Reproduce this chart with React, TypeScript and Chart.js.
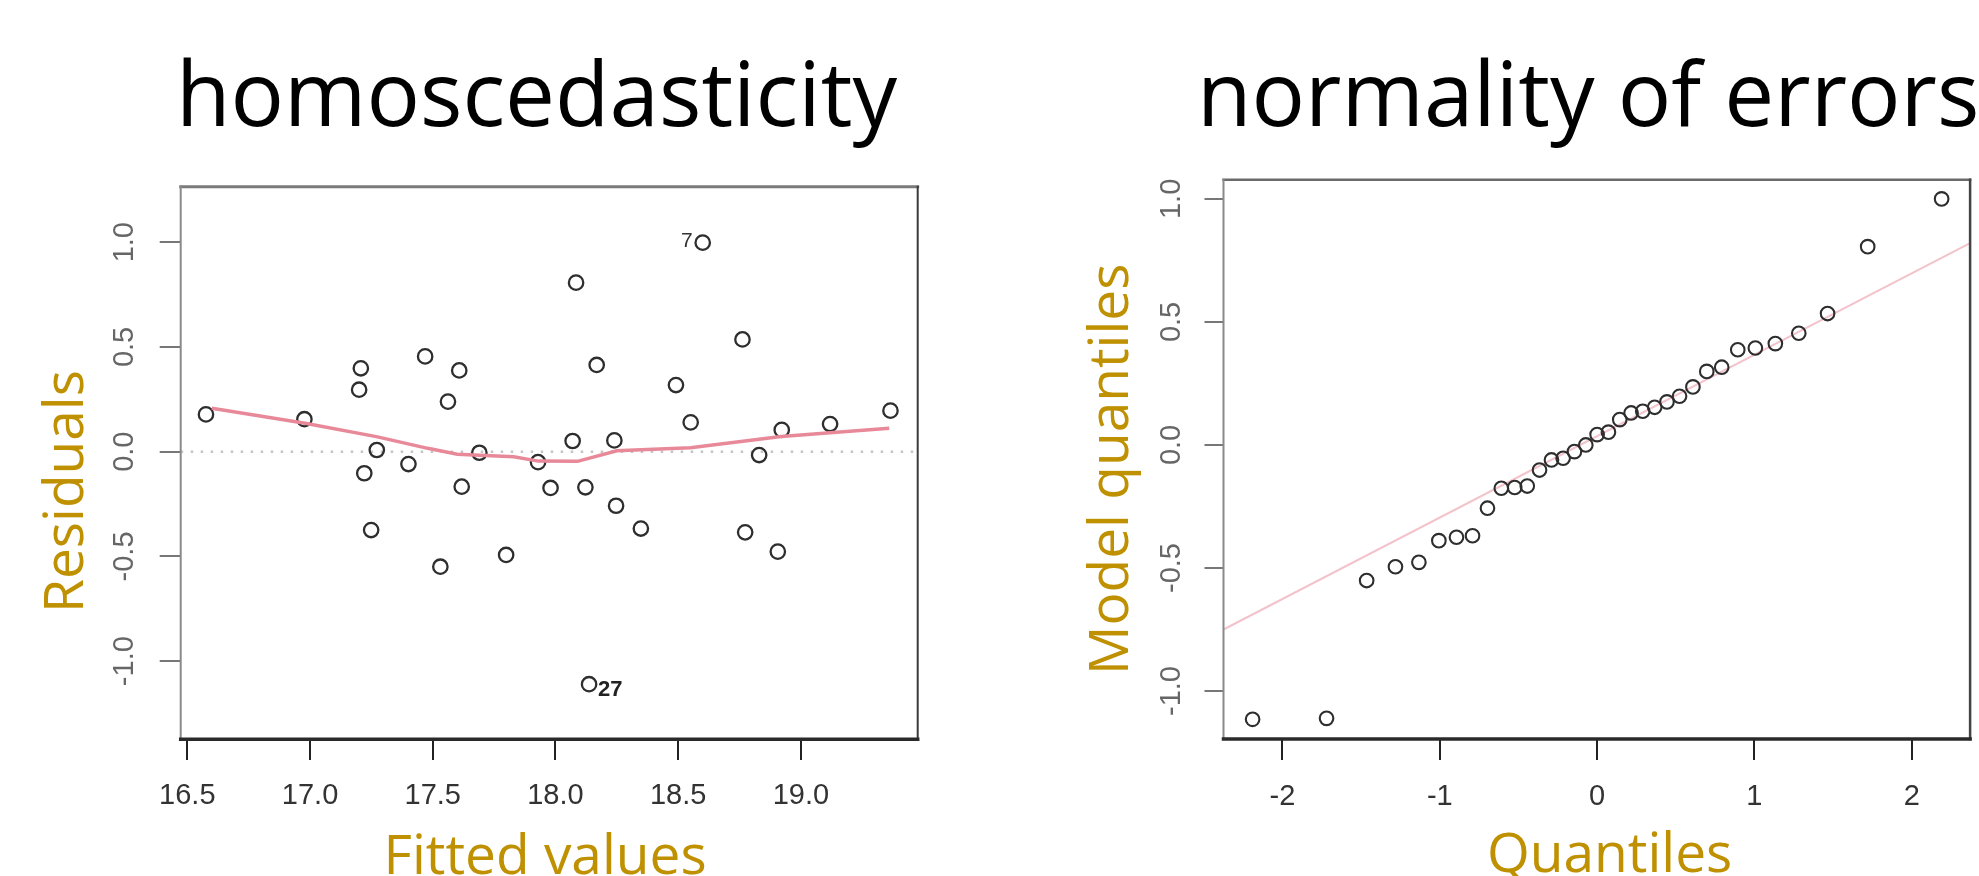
import React, { useEffect, useRef } from 'react';
import { Chart, registerables } from 'chart.js';

Chart.register(...registerables);
Chart.defaults.font.family = "'Liberation Sans', Arial, sans-serif";

// ---------- Left panel: residuals vs fitted ----------
const fittedValues = [
  16.576, 16.977, 17.207, 17.2, 17.221, 17.249, 17.272, 17.401, 17.469, 17.531,
  17.562, 17.608, 17.618, 17.69, 17.799, 17.929, 17.98, 18.07, 18.084, 18.122,
  18.137, 18.168, 18.24, 18.247, 18.348, 18.491, 18.551, 18.6, 18.762, 18.773,
  18.83, 18.906, 18.922, 19.119, 19.365,
];
const residuals = [
  0.178, 0.155, 0.398, 0.296, -0.103, -0.374, 0.008, -0.059, 0.455, -0.549,
  0.239, 0.388, -0.167, -0.005, -0.493, -0.05, -0.173, 0.051, 0.807, -0.17,
  -1.11, 0.414, 0.054, -0.258, -0.367, 0.318, 0.14, 0.998, 0.536, -0.385,
  -0.016, -0.477, 0.104, 0.132, 0.196,
];
const labelledPointIndex = [27, 20];
const labelledPointText = ['7', '27'];

const smoothX = [16.6, 16.98, 17.27, 17.48, 17.6, 17.83, 17.93, 18.09, 18.25, 18.55, 18.92, 19.36];
const smoothY = [0.207, 0.136, 0.072, 0.016, -0.012, -0.024, -0.045, -0.046, 0.004, 0.019, 0.072, 0.112];

const fittedRange = [16.473, 19.476];
const residualRange = [-1.373, 1.265];
const fittedTicks = [16.5, 17.0, 17.5, 18.0, 18.5, 19.0];
const residualTicks = [-1.0, -0.5, 0.0, 0.5, 1.0];

// ---------- Right panel: normal Q-Q ----------
const theoreticalQuantiles = [
  -2.19, -1.72, -1.465, -1.282, -1.133, -1.006, -0.894, -0.792, -0.697, -0.609,
  -0.524, -0.444, -0.366, -0.29, -0.216, -0.144, -0.072, 0.0, 0.072, 0.144,
  0.216, 0.29, 0.366, 0.444, 0.524, 0.609, 0.697, 0.792, 0.894, 1.006,
  1.133, 1.282, 1.465, 1.72, 2.19,
];
const modelQuantiles = [
  -1.115, -1.111, -0.551, -0.495, -0.477, -0.389, -0.375, -0.369, -0.257, -0.176,
  -0.173, -0.167, -0.102, -0.061, -0.054, -0.027, 0.0, 0.042, 0.052, 0.103,
  0.13, 0.137, 0.153, 0.175, 0.198, 0.236, 0.299, 0.316, 0.387, 0.394,
  0.412, 0.454, 0.534, 0.806, 1.0,
];
const qqLineX = [-2.375, 2.371];
const qqLineY = [-0.75, 0.82];

const quantileRange = [-2.375, 2.371];
const modelRange = [-1.195, 1.078];
const quantileTicks = [-2, -1, 0, 1, 2];
const modelTicks = [-1.0, -0.5, 0.0, 0.5, 1.0];

// ---------- plugins ----------
const framePlugin = {
  id: 'frame',
  afterDatasetsDraw(chart: any, _args: any, opts: any) {
    const { ctx, chartArea: a } = chart;
    const sides = [
      ['top', a.left, a.top, a.right, a.top],
      ['left', a.left, a.top, a.left, a.bottom],
      ['right', a.right, a.top, a.right, a.bottom],
      ['bottom', a.left, a.bottom, a.right, a.bottom],
    ];
    ctx.save();
    ctx.lineCap = 'square';
    for (const [k, x1, y1, x2, y2] of sides as any) {
      const s = opts[k];
      if (!s) continue;
      ctx.strokeStyle = s.color;
      ctx.lineWidth = s.width;
      ctx.beginPath();
      ctx.moveTo(x1, y1);
      ctx.lineTo(x2, y2);
      ctx.stroke();
    }
    ctx.restore();
  },
};

const pointTextPlugin = {
  id: 'pointText',
  afterDatasetsDraw(chart: any, _args: any, opts: any) {
    if (!opts || !opts.items) return;
    const meta = chart.getDatasetMeta(opts.datasetIndex);
    const { ctx } = chart;
    ctx.save();
    for (const it of opts.items) {
      const el = meta.data[it.index];
      if (!el) continue;
      ctx.font = it.font;
      ctx.fillStyle = it.color;
      ctx.textAlign = it.align;
      ctx.textBaseline = 'middle';
      ctx.fillText(it.text, el.x + it.dx, el.y + it.dy);
    }
    ctx.restore();
  },
};

function makeAxis(o: any) {
  return {
    type: 'linear',
    min: o.range[0],
    max: o.range[1],
    afterBuildTicks: (s: any) => {
      s.ticks = o.ticks.map((v: number) => ({ value: v }));
    },
    afterFit: (s: any) => {
      if (o.horizontal) s.height = o.size;
      else s.width = o.size;
    },
    border: { display: false },
    grid: {
      drawOnChartArea: false,
      drawTicks: true,
      tickLength: o.tickLength,
      color: o.tickColor,
      tickColor: o.tickColor,
      lineWidth: o.tickWidth,
      tickWidth: o.tickWidth,
    },
    ticks: {
      autoSkip: false,
      padding: o.padding,
      color: o.labelColor,
      font: { family: "'Liberation Sans', Arial, sans-serif", size: o.fontSize, lineHeight: 1.2 },
      minRotation: o.horizontal ? 0 : 90,
      maxRotation: o.horizontal ? 0 : 90,
      crossAlign: o.horizontal ? 'near' : 'center',
      callback: (v: number) => o.format(v),
    },
  };
}

const fmt1 = (v: number) => v.toFixed(1);
const fmt0 = (v: number) => String(Math.round(v));

function useChart(ref: React.RefObject<HTMLCanvasElement>, build: () => any) {
  useEffect(() => {
    if (!ref.current) return;
    const chart = new Chart(ref.current, build());
    return () => chart.destroy();
  }, []);
}

function BaselineText(props: {
  x: number; y: number; size: number; color: string; rotate?: boolean; children: string;
}) {
  const H = 200;
  return (
    <div
      style={{
        position: 'absolute',
        left: props.x,
        top: props.y - H,
        lineHeight: 0,
        whiteSpace: 'nowrap',
        fontFamily: "'Open Sans', 'Noto Sans', sans-serif",
        fontSize: props.size,
        color: props.color,
        transformOrigin: `0px ${H}px`,
        transform: props.rotate ? 'rotate(-90deg)' : undefined,
      }}
    >
      <span style={{ display: 'inline-block', width: 0, height: H }} />
      {props.children}
    </div>
  );
}

const GOLD = '#bf9000';
const LEFT_W = 1000;
const RIGHT_W = 979;
const H = 876;

export default function App() {
  const leftRef = useRef<HTMLCanvasElement>(null);
  const rightRef = useRef<HTMLCanvasElement>(null);

  useChart(leftRef, () => ({
    type: 'scatter',
    data: {
      datasets: [
        {
          type: 'line',
          data: smoothX.map((x, i) => ({ x, y: smoothY[i] })),
          borderColor: '#e8899a',
          borderWidth: 3.5,
          pointRadius: 0,
          fill: false,
          tension: 0,
        },
        {
          data: fittedValues.map((x, i) => ({ x, y: residuals[i] })),
          showLine: false,
          pointRadius: 7.2,
          pointBorderWidth: 2.3,
          borderColor: '#2e2e2e',
          pointBorderColor: '#2e2e2e',
          backgroundColor: 'rgba(0,0,0,0)',
          pointBackgroundColor: 'rgba(0,0,0,0)',
        },
        {
          type: 'line',
          data: [{ x: fittedRange[0], y: 0 }, { x: fittedRange[1], y: 0 }],
          borderColor: '#c4c4c4',
          borderWidth: 2.5,
          borderDash: [2.5, 7.5],
          pointRadius: 0,
          fill: false,
        },
      ],
    },
    options: {
      responsive: false,
      maintainAspectRatio: false,
      animation: false,
      events: [],
      layout: { padding: { left: 0, top: 186.7, right: LEFT_W - 917.7, bottom: 0 } },
      plugins: {
        legend: { display: false },
        tooltip: { enabled: false },
        frame: {
          top: { color: '#7a7a7a', width: 3 },
          left: { color: '#8a8a8a', width: 2 },
          right: { color: '#3a3a3a', width: 2 },
          bottom: { color: '#2a2a2a', width: 3.5 },
        },
        pointText: {
          datasetIndex: 1,
          items: [
            { index: labelledPointIndex[0], text: labelledPointText[0], dx: -10, dy: -1, align: 'right', font: "21px 'Liberation Sans'", color: '#333' },
            { index: labelledPointIndex[1], text: labelledPointText[1], dx: 9, dy: 6, align: 'left', font: "bold 22px 'Liberation Sans'", color: '#222' },
          ],
        },
      },
      scales: {
        x: makeAxis({
          horizontal: true, range: fittedRange, ticks: fittedTicks, size: H - 739.3,
          tickLength: 20.7, tickColor: '#222', tickWidth: 2, padding: 19,
          labelColor: '#333', fontSize: 29, format: fmt1,
        }),
        y: makeAxis({
          horizontal: false, range: residualRange, ticks: residualTicks, size: 180.7,
          tickLength: 21, tickColor: '#777', tickWidth: 2, padding: 9.4,
          labelColor: '#666', fontSize: 29, format: fmt1,
        }),
      },
    },
    plugins: [framePlugin, pointTextPlugin],
  }));

  useChart(rightRef, () => ({
    type: 'scatter',
    data: {
      datasets: [
        {
          data: theoreticalQuantiles.map((x, i) => ({ x, y: modelQuantiles[i] })),
          showLine: false,
          pointRadius: 6.8,
          pointBorderWidth: 2.1,
          borderColor: '#2e2e2e',
          pointBorderColor: '#2e2e2e',
          backgroundColor: 'rgba(0,0,0,0)',
          pointBackgroundColor: 'rgba(0,0,0,0)',
        },
        {
          type: 'line',
          data: qqLineX.map((x, i) => ({ x, y: qqLineY[i] })),
          borderColor: '#f3c3cc',
          borderWidth: 2,
          pointRadius: 0,
          fill: false,
        },
      ],
    },
    options: {
      responsive: false,
      maintainAspectRatio: false,
      animation: false,
      events: [],
      layout: { padding: { left: 0, top: 179.7, right: RIGHT_W - 972, bottom: 0 } },
      plugins: {
        legend: { display: false },
        tooltip: { enabled: false },
        frame: {
          top: { color: '#6a6a6a', width: 2.5 },
          left: { color: '#8a8a8a', width: 2 },
          right: { color: '#444', width: 2.5 },
          bottom: { color: '#2a2a2a', width: 3.5 },
        },
      },
      scales: {
        x: makeAxis({
          horizontal: true, range: quantileRange, ticks: quantileTicks, size: H - 739,
          tickLength: 21, tickColor: '#222', tickWidth: 2, padding: 19.3,
          labelColor: '#333', fontSize: 29, format: fmt0,
        }),
        y: makeAxis({
          horizontal: false, range: modelRange, ticks: modelTicks, size: 223.5,
          tickLength: 19, tickColor: '#777', tickWidth: 2, padding: 7.8,
          labelColor: '#666', fontSize: 29, format: fmt1,
        }),
      },
    },
    plugins: [framePlugin],
  }));

  return (
    <div
      style={{
        position: 'absolute', left: 0, top: 0, width: 1979, height: H,
        overflow: 'hidden', background: '#fff',
      }}
    >
      <canvas
        ref={leftRef}
        width={LEFT_W}
        height={H}
        style={{ position: 'absolute', left: 0, top: 0, width: LEFT_W, height: H }}
      />
      <canvas
        ref={rightRef}
        width={RIGHT_W}
        height={H}
        style={{ position: 'absolute', left: 1000, top: 0, width: RIGHT_W, height: H }}
      />
      <BaselineText x={176} y={126} size={89} color="#000">homoscedasticity</BaselineText>
      <BaselineText x={1197} y={126} size={89} color="#000">normality of errors</BaselineText>
      <BaselineText x={82.9} y={613.4} size={55} color={GOLD} rotate>Residuals</BaselineText>
      <BaselineText x={1128} y={675.4} size={55} color={GOLD} rotate>Model quantiles</BaselineText>
      <BaselineText x={383.6} y={874} size={55} color={GOLD}>Fitted values</BaselineText>
      <BaselineText x={1487} y={872} size={55} color={GOLD}>Quantiles</BaselineText>
    </div>
  );
}
